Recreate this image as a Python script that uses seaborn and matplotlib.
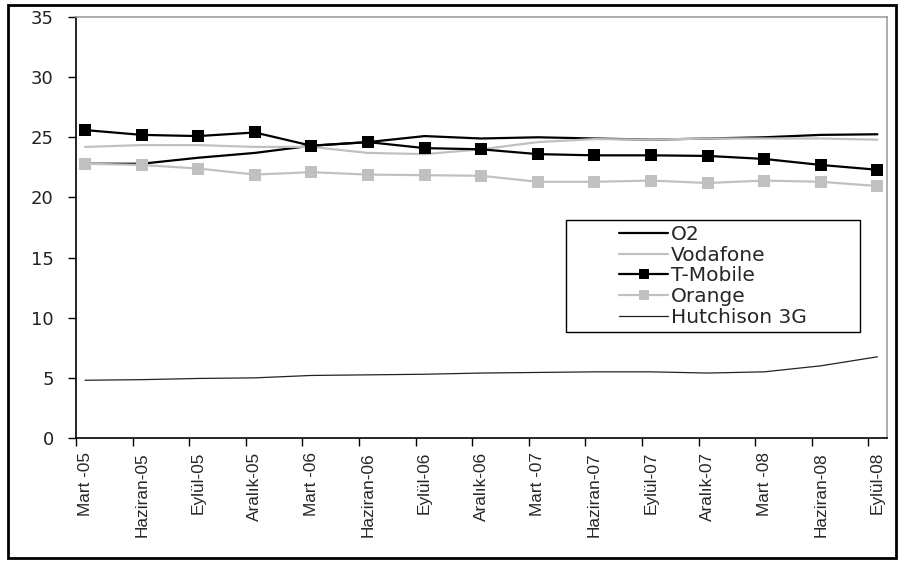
import pandas as pd
import numpy as np
import matplotlib
matplotlib.use("Agg")
import matplotlib.pyplot as plt
import seaborn as sns
from matplotlib.patches import Rectangle

# quarters on the x axis
quarters = ['Mart -05', 'Haziran-05', 'Eylül-05', 'Aralık-05',
            'Mart -06', 'Haziran-06', 'Eylül-06', 'Aralık-06',
            'Mart -07', 'Haziran-07', 'Eylül-07', 'Aralık-07',
            'Mart -08', 'Haziran-08', 'Eylül-08']

o2 = [22.8, 22.8, 23.3, 23.7, 24.3, 24.6, 25.1, 24.9, 25.0, 24.9, 24.8, 24.9, 25.0, 25.2, 25.25]
vodafone = [24.2, 24.35, 24.35, 24.2, 24.2, 23.7, 23.6, 24.0, 24.6, 24.85, 24.8, 24.9, 24.9, 24.9, 24.8]
tmobile = [25.6, 25.2, 25.1, 25.4, 24.3, 24.6, 24.1, 24.0, 23.6, 23.5, 23.5, 23.45, 23.2, 22.7, 22.3]
orange = [22.8, 22.7, 22.4, 21.9, 22.1, 21.9, 21.85, 21.8, 21.3, 21.3, 21.4, 21.2, 21.4, 21.3, 20.95]
hutchison = [4.8, 4.85, 4.95, 5.0, 5.2, 5.25, 5.3, 5.4, 5.45, 5.5, 5.5, 5.4, 5.5, 6.0, 6.75]

sns.set_style("white")
plt.rcParams['font.family'] = ['Liberation Sans', 'DejaVu Sans']

x = np.arange(len(quarters))
fig = plt.figure(figsize=(9.01, 5.63), dpi=100)
ax = fig.add_axes([76/901, 125/563, 811/901, 421/563])

gray = '#c0c0c0'
sns.lineplot(x=x, y=o2, ax=ax, color='black', lw=1.6, label='O2')
sns.lineplot(x=x, y=vodafone, ax=ax, color=gray, lw=1.6, label='Vodafone')
sns.lineplot(x=x, y=tmobile, ax=ax, color='black', lw=1.6, marker='s', markersize=9,
             markeredgewidth=0, label='T-Mobile')
sns.lineplot(x=x, y=orange, ax=ax, color=gray, lw=1.6, marker='s', markersize=9,
             markeredgewidth=0, label='Orange')
sns.lineplot(x=x, y=hutchison, ax=ax, color='#222222', lw=0.9, label='Hutchison 3G')

ax.set_ylim(0, 35)
ax.set_yticks(range(0, 36, 5))
ax.set_xlim(-0.16, 14.17)

# labels centered on points, tick marks slightly left of them
ax.set_xticks(x)
ax.set_xticklabels(quarters, rotation=90, fontsize=12.4)
ax.set_xticks(x - 0.16, minor=True)
ax.tick_params(axis='x', which='major', length=0, pad=10)
ax.tick_params(axis='x', which='minor', length=6, width=1, color='black', direction='out', bottom=True)
ax.tick_params(axis='y', length=6, width=1, color='black', direction='out', left=True, pad=10)
for lbl in ax.get_yticklabels():
    lbl.set_color('#222222')
    lbl.set_fontfamily('DejaVu Sans')
    lbl.set_fontsize(13)

for side in ['left', 'bottom']:
    ax.spines[side].set_color('black')
    ax.spines[side].set_linewidth(1.2)
for side in ['top', 'right']:
    ax.spines[side].set_color('#a0a0a0')
    ax.spines[side].set_linewidth(1.2)
ax.set_xlabel('')
ax.set_ylabel('')

# legend entries centred inside a separately drawn box
leg = ax.legend(loc='center', bbox_to_anchor=(0.7855, 0.385), frameon=False,
                prop={'family': 'DejaVu Sans', 'size': 14.5}, handlelength=2.4,
                labelspacing=0.08, handletextpad=0.15, borderpad=0, borderaxespad=0)
for h in leg.legend_handles:
    h.set_markersize(7)
ax.add_patch(Rectangle((0.604, 0.252), 0.363, 0.266, transform=ax.transAxes,
                       fill=False, edgecolor='black', lw=1.0, zorder=5))

# outer frame round the whole chart
fig.patches.append(Rectangle((8/901, 5/563), 888/901, 553/563, transform=fig.transFigure,
                             fill=False, edgecolor='black', lw=2))

fig.savefig('out.png', dpi=100)
